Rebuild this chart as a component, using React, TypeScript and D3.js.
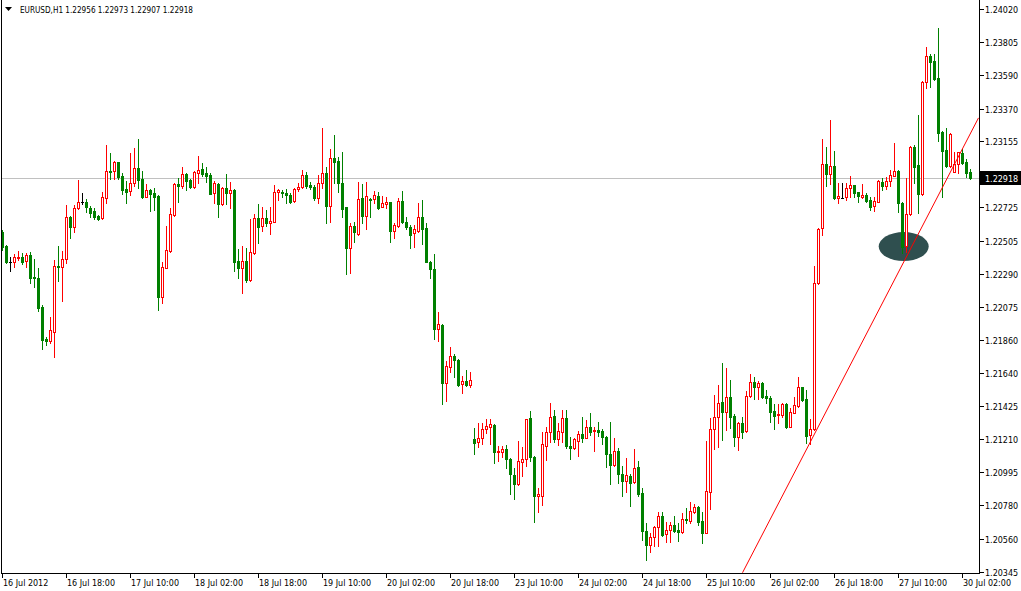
import React from "react";
import * as d3 from "d3";

// ---- Data (EURUSD H1, 16 Jul 2012 02:00 .. 30 Jul 2012 04:00) ----
const symbolTitle = "EURUSD,H1";
// [open, high, low, close]
const week1Candles: [number, number, number, number][] = [
  [1.22566,1.22577,1.22446,1.22468],[1.22473,1.22479,1.22362,1.22368],[1.22366,1.22403,1.22311,1.22366],
  [1.22366,1.22420,1.22335,1.22403],[1.22392,1.22440,1.22381,1.22403],[1.22403,1.22429,1.22355,1.22370],
  [1.22375,1.22425,1.22337,1.22414],[1.22414,1.22435,1.22233,1.22266],[1.22272,1.22388,1.22207,1.22266],
  [1.22264,1.22331,1.22048,1.22070],[1.22074,1.22087,1.21800,1.21859],[1.21865,1.21880,1.21826,1.21854],
  [1.21854,1.22009,1.21841,1.21924],[1.21913,1.22381,1.21750,1.22342],[1.22344,1.22473,1.22244,1.22337],
  [1.22337,1.22440,1.22115,1.22388],[1.22386,1.22740,1.22364,1.22660],[1.22660,1.22669,1.22527,1.22599],
  [1.22599,1.22740,1.22562,1.22719],[1.22719,1.22904,1.22714,1.22758],[1.22758,1.22821,1.22747,1.22758],
  [1.22758,1.22778,1.22697,1.22725],[1.22719,1.22734,1.22664,1.22690],[1.22701,1.22719,1.22647,1.22664],
  [1.22669,1.22675,1.22642,1.22647],[1.22654,1.22827,1.22647,1.22791],[1.22788,1.23132,1.22755,1.22962],
  [1.22962,1.23078,1.22910,1.22954],[1.22962,1.23028,1.22908,1.23023],[1.23019,1.23023,1.22908,1.22925],
  [1.22930,1.22947,1.22812,1.22838],[1.22845,1.22899,1.22755,1.22827],[1.22834,1.23082,1.22806,1.22882],
  [1.22882,1.23115,1.22864,1.22980],[1.22980,1.23171,1.22853,1.22904],[1.22908,1.22964,1.22784,1.22795],
  [1.22795,1.22878,1.22791,1.22838],[1.22838,1.22843,1.22703,1.22812],[1.22817,1.22849,1.22708,1.22795],
  [1.22799,1.22806,1.22055,1.22142],[1.22142,1.22370,1.22102,1.22337],[1.22331,1.22603,1.22327,1.22446],
  [1.22440,1.22719,1.22435,1.22680],[1.22675,1.22882,1.22669,1.22878],[1.22878,1.22915,1.22762,1.22866],
  [1.22866,1.22987,1.22849,1.22943],[1.22943,1.22951,1.22838,1.22899],[1.22904,1.22910,1.22853,1.22860],
  [1.22856,1.22962,1.22853,1.22954],[1.22951,1.23060,1.22886,1.22969],[1.22975,1.23013,1.22930,1.22943],
  [1.22947,1.22990,1.22889,1.22932],[1.22936,1.22951,1.22812,1.22815],[1.22817,1.22897,1.22755,1.22882],
  [1.22878,1.22882,1.22664,1.22745],[1.22745,1.22860,1.22740,1.22849],[1.22849,1.22943,1.22745,1.22817],
  [1.22817,1.22889,1.22723,1.22838],[1.22838,1.22843,1.22311,1.22370],[1.22375,1.22451,1.22266,1.22331],
  [1.22331,1.22473,1.22168,1.22375],[1.22375,1.22462,1.22240,1.22251],[1.22251,1.22649,1.22244,1.22432],
  [1.22425,1.22682,1.22420,1.22654],[1.22654,1.22747,1.22490,1.22599],[1.22603,1.22729,1.22571,1.22654],
  [1.22654,1.22708,1.22605,1.22621],[1.22621,1.22725,1.22549,1.22636],[1.22631,1.22871,1.22629,1.22823],
  [1.22827,1.22845,1.22773,1.22838],[1.22827,1.22838,1.22795,1.22817],[1.22821,1.22843,1.22751,1.22806],
  [1.22806,1.22817,1.22751,1.22762],[1.22768,1.22849,1.22762,1.22843],[1.22843,1.22882,1.22834,1.22856],
  [1.22856,1.22969,1.22853,1.22936],[1.22936,1.22958,1.22853,1.22866],[1.22871,1.22889,1.22843,1.22860],
  [1.22860,1.22871,1.22773,1.22788],[1.22788,1.22936,1.22751,1.22882],[1.22882,1.23245,1.22849,1.22947],
  [1.22947,1.22990,1.22625,1.22736],[1.22736,1.23104,1.22631,1.23045],[1.23045,1.23197,1.22882,1.23023],
  [1.23028,1.23056,1.22823,1.22882],[1.22882,1.23085,1.22664,1.22714],[1.22725,1.22729,1.22288,1.22462],
  [1.22458,1.22621,1.22298,1.22603],[1.22603,1.22631,1.22501,1.22562],[1.22551,1.22893,1.22544,1.22780],
  [1.22788,1.22878,1.22621,1.22671],[1.22671,1.22889,1.22584,1.22799],[1.22780,1.22784,1.22664,1.22773],
  [1.22778,1.22832,1.22751,1.22806],[1.22799,1.22823,1.22714,1.22723],[1.22729,1.22799,1.22725,1.22751],
  [1.22749,1.22795,1.22719,1.22758],[1.22758,1.22762,1.22501,1.22573],[1.22573,1.22625,1.22527,1.22610],
  [1.22605,1.22784,1.22599,1.22767],[1.22767,1.22832,1.22621,1.22627],[1.22631,1.22664,1.22584,1.22595],
  [1.22599,1.22610,1.22462,1.22544],[1.22556,1.22610,1.22468,1.22584],[1.22573,1.22755,1.22566,1.22660],
  [1.22660,1.22773,1.22486,1.22584],[1.22588,1.22621,1.22368,1.22370],[1.22370,1.22375,1.22266,1.22322],
  [1.22322,1.22420,1.21865,1.21931],[1.21931,1.22040,1.21854,1.21961],[1.21957,1.21963,1.21441,1.21580],
  [1.21580,1.21722,1.21462,1.21689],[1.21685,1.21811,1.21652,1.21754],[1.21754,1.21767,1.21615,1.21728],
  [1.21728,1.21735,1.21558,1.21565],[1.21570,1.21626,1.21511,1.21591],[1.21591,1.21663,1.21560,1.21565],
  [1.21565,1.21652,1.21554,1.21598],
];
const week2Candles: [number, number, number, number][] = [
  [1.21212,1.21286,1.21114,1.21188],[1.21191,1.21315,1.21162,1.21217],[1.21217,1.21315,1.21180,1.21278],
  [1.21276,1.21343,1.21250,1.21297],[1.21293,1.21343,1.21180,1.21310],[1.21304,1.21310,1.21058,1.21129],
  [1.21129,1.21167,1.21069,1.21137],[1.21129,1.21169,1.21097,1.21147],[1.21147,1.21173,1.21025,1.21080],
  [1.21082,1.21085,1.20853,1.20982],[1.20977,1.21025,1.20821,1.20917],[1.20917,1.21199,1.20913,1.21069],
  [1.21064,1.21162,1.20971,1.21082],[1.21082,1.21346,1.21036,1.21343],[1.21348,1.21395,1.21071,1.21093],
  [1.21093,1.21101,1.20672,1.20842],[1.20840,1.20892,1.20734,1.20850],[1.20842,1.21256,1.20781,1.21178],
  [1.21169,1.21289,1.21075,1.21256],[1.21256,1.21446,1.21191,1.21354],[1.21363,1.21402,1.21191,1.21210],
  [1.21210,1.21315,1.21173,1.21265],[1.21260,1.21402,1.21191,1.21348],[1.21348,1.21402,1.21152,1.21167],
  [1.21167,1.21223,1.21082,1.21156],[1.21152,1.21217,1.21147,1.21210],[1.21201,1.21267,1.21103,1.21243],
  [1.21243,1.21354,1.21191,1.21221],[1.21221,1.21336,1.21217,1.21289],[1.21289,1.21380,1.21238,1.21260],
  [1.21265,1.21289,1.21136,1.21271],[1.21271,1.21325,1.21234,1.21260],[1.21265,1.21276,1.21178,1.21223],
  [1.21227,1.21232,1.21031,1.21112],[1.21114,1.21325,1.20918,1.21042],[1.21042,1.21221,1.21036,1.21136],
  [1.21136,1.21152,1.20923,1.20982],[1.20982,1.21036,1.20842,1.20938],[1.20938,1.21090,1.20868,1.20977],
  [1.20973,1.20982,1.20777,1.20927],[1.20930,1.21147,1.20927,1.21021],[1.21028,1.21069,1.20842,1.20851],
  [1.20858,1.20894,1.20553,1.20612],[1.20612,1.20662,1.20422,1.20520],[1.20520,1.20597,1.20476,1.20570],
  [1.20570,1.20644,1.20514,1.20636],[1.20636,1.20738,1.20516,1.20710],[1.20710,1.20734,1.20579,1.20585],
  [1.20590,1.20672,1.20542,1.20618],[1.20618,1.20672,1.20538,1.20651],[1.20651,1.20710,1.20607,1.20614],
  [1.20618,1.20662,1.20548,1.20607],[1.20607,1.20731,1.20597,1.20688],[1.20690,1.20764,1.20666,1.20683],
  [1.20679,1.20799,1.20662,1.20742],[1.20738,1.20786,1.20727,1.20766],[1.20766,1.20775,1.20651,1.20672],
  [1.20677,1.20734,1.20535,1.20601],[1.20601,1.21199,1.20597,1.20873],[1.20868,1.21348,1.20755,1.21278],
  [1.21278,1.21500,1.21145,1.21354],[1.21354,1.21565,1.21162,1.21446],[1.21452,1.21711,1.21206,1.21391],
  [1.21391,1.21678,1.21271,1.21485],[1.21485,1.21598,1.21286,1.21354],[1.21363,1.21376,1.21167,1.21227],
  [1.21223,1.21325,1.21141,1.21315],[1.21315,1.21358,1.21217,1.21260],[1.21267,1.21528,1.21260,1.21493],
  [1.21493,1.21637,1.21487,1.21583],[1.21583,1.21617,1.21472,1.21554],[1.21554,1.21593,1.21472,1.21580],
  [1.21580,1.21587,1.21478,1.21485],[1.21495,1.21532,1.21446,1.21478],[1.21482,1.21493,1.21325,1.21391],
  [1.21395,1.21441,1.21276,1.21365],[1.21367,1.21441,1.21315,1.21376],[1.21369,1.21446,1.21358,1.21441],
  [1.21441,1.21446,1.21286,1.21293],[1.21293,1.21413,1.21289,1.21387],[1.21384,1.21489,1.21380,1.21434],
  [1.21430,1.21619,1.21423,1.21550],[1.21550,1.21554,1.21462,1.21467],[1.21472,1.21532,1.21188,1.21234],
  [1.21238,1.21341,1.21178,1.21276],[1.21276,1.22342,1.21273,1.22229],[1.22229,1.22588,1.22225,1.22582],
  [1.22588,1.23171,1.22544,1.23008],[1.23008,1.23117,1.22864,1.22943],[1.22941,1.23295,1.22878,1.22995],
  [1.22995,1.23093,1.22778,1.22788],[1.22788,1.22886,1.22751,1.22799],[1.22789,1.22886,1.22784,1.22789],
  [1.22791,1.22882,1.22773,1.22849],[1.22849,1.22932,1.22795,1.22871],[1.22871,1.22874,1.22795,1.22821],
  [1.22823,1.22827,1.22762,1.22801],[1.22791,1.22876,1.22784,1.22806],[1.22806,1.22817,1.22762,1.22768],
  [1.22773,1.22791,1.22708,1.22729],[1.22736,1.22795,1.22703,1.22767],[1.22762,1.22904,1.22760,1.22897],
  [1.22893,1.22915,1.22838,1.22864],[1.22866,1.22925,1.22843,1.22897],[1.22899,1.22969,1.22864,1.22936],
  [1.22932,1.23143,1.22930,1.22962],[1.22962,1.22969,1.22697,1.22755],[1.22755,1.22759,1.22425,1.22466],
  [1.22475,1.22915,1.22435,1.22680],[1.22680,1.23126,1.22676,1.23122],[1.23121,1.23132,1.22882,1.22990],
  [1.23002,1.23328,1.22690,1.22810],[1.22810,1.23550,1.22807,1.23546],[1.23542,1.23770,1.23506,1.23713],
  [1.23713,1.23724,1.23513,1.23676],[1.23681,1.23724,1.23557,1.23561],[1.23568,1.23894,1.23160,1.23212],
  [1.23219,1.23222,1.22795,1.23095],[1.23100,1.23241,1.22990,1.22997],[1.22997,1.23209,1.22990,1.23205],
  [1.22958,1.23088,1.22955,1.23008],[1.23008,1.23088,1.22951,1.23085],[1.23078,1.23104,1.23008,1.23017],
  [1.23023,1.23039,1.22925,1.22951],[1.22956,1.22973,1.22907,1.22918],
];
const timeTickLabels = [
  "16 Jul 2012", "16 Jul 18:00", "17 Jul 10:00", "18 Jul 02:00", "18 Jul 18:00", "19 Jul 10:00",
  "20 Jul 02:00", "20 Jul 18:00", "23 Jul 10:00", "24 Jul 02:00", "24 Jul 18:00", "25 Jul 10:00",
  "26 Jul 02:00", "26 Jul 18:00", "27 Jul 10:00", "30 Jul 02:00",
];
const barsPerTimeTick = 16;
const priceTicks = [
  1.2402, 1.23805, 1.2359, 1.2337, 1.23155, 1.2294, 1.22725, 1.22505, 1.2229,
  1.22075, 1.2186, 1.2164, 1.21425, 1.2121, 1.20995, 1.2078, 1.2056, 1.20345,
];
const trendLine = [ { bar: 185, price: 1.20339 }, { bar: 244, price: 1.23309 } ];
const markedArea = { bar: 225.3, price: 1.22469 };

// ---- Layout ----
const W = 1021, H = 591;
const PL = 1, PR = 979, PT = 0, PB = 573;
const UP = "#ff0000", DOWN = "#008000", FONT = "'DejaVu Sans', Verdana, sans-serif";

export default function App() {
  const candles = [...week1Candles, ...week2Candles];
  const last = candles[candles.length - 1];
  const x = d3.scaleLinear().domain([0, candles.length - 1]).range([2, 2 + 4 * (candles.length - 1)]);
  const y = d3.scaleLinear().domain([1.20345, 1.2402]).range([571.8, 9.0]);
  const fmt = d3.format(".5f");

  const marks = candles.map(([o, h, l, c], i) => {
    const cx = Math.round(x(i));
    const yo = Math.round(y(o)), yc = Math.round(y(c)), yh = Math.round(y(h)), yl = Math.round(y(l));
    if (c === o) {
      return (
        <g key={i}>
          <line x1={cx + 0.5} x2={cx + 0.5} y1={yh} y2={yl + 1} stroke="#000" />
          <line x1={cx - 1} x2={cx + 2} y1={yo + 0.5} y2={yo + 0.5} stroke="#000" />
        </g>
      );
    }
    if (c > o) {
      const top = yc, bot = yo;
      return (
        <g key={i}>
          <line x1={cx + 0.5} x2={cx + 0.5} y1={yh} y2={yl + 1} stroke={UP} />
          {bot - top < 1 ? (
            <line x1={cx - 1} x2={cx + 2} y1={top + 0.5} y2={top + 0.5} stroke={UP} />
          ) : (
            <rect x={cx - 0.5} y={top + 0.5} width={2} height={bot - top} fill="#fff" stroke={UP} />
          )}
        </g>
      );
    }
    const top = yo, bot = yc;
    return (
      <g key={i}>
        <line x1={cx + 0.5} x2={cx + 0.5} y1={yh} y2={yl + 1} stroke={DOWN} />
        <rect x={cx - 1} y={top} width={3} height={Math.max(1, bot - top + 1)} fill={DOWN} />
      </g>
    );
  });

  const lastY = Math.round(y(last[3]));
  const tl = trendLine.map((p) => [x(p.bar) + 0.5, y(p.price)]);

  return (
    <div style={{ position: "fixed", left: 0, top: 0, width: W, height: H, background: "#fff" }}>
      <svg width={W} height={H} style={{ display: "block" }} shapeRendering="crispEdges">
        <rect x={0} y={0} width={W} height={H} fill="#fff" />
        <defs>
          <clipPath id="plot"><rect x={PL} y={PT} width={PR - PL} height={PB - PT} /></clipPath>
        </defs>
        {/* current price line */}
        <line x1={PL} x2={PR} y1={lastY + 0.5} y2={lastY + 0.5} stroke="#c0c0c0" />
        {/* highlighted area */}
        <ellipse cx={x(markedArea.bar) + 0.5} cy={y(markedArea.price)} rx={25} ry={14.5}
          fill="#2f4f4f" shapeRendering="auto" />
        <g>{marks}</g>
        {/* trend line */}
        <g clipPath="url(#plot)">
          <line x1={tl[0][0]} y1={tl[0][1]} x2={tl[1][0]} y2={tl[1][1]} stroke="#ff0000" strokeWidth={1}
            shapeRendering="auto" />
        </g>
        {/* frame */}
        <line x1={PL + 0.5} x2={PL + 0.5} y1={PT} y2={PB + 1} stroke="#000" />
        <line x1={PR + 0.5} x2={PR + 0.5} y1={PT} y2={PB + 1} stroke="#000" />
        <line x1={PL} x2={PR + 1} y1={PB + 0.5} y2={PB + 0.5} stroke="#000" />
        {/* price axis */}
        {priceTicks.map((p) => {
          const ty = Math.round(y(p));
          const hidden = Math.abs(ty - lastY) < 12;
          return (
            <g key={p}>
              <line x1={PR + 1} x2={PR + 5} y1={ty + 0.5} y2={ty + 0.5} stroke="#000" />
              {!hidden && (
                <text x={985} y={ty + 4} fontFamily={FONT} fontSize={8} fill="#000">{fmt(p)}</text>
              )}
            </g>
          );
        })}
        <rect x={980} y={lastY - 7} width={41} height={14} fill="#000" />
        <text x={985} y={lastY + 4} fontFamily={FONT} fontSize={8} fill="#fff">{fmt(last[3])}</text>
        {/* time axis */}
        {timeTickLabels.map((lab, k) => {
          const tx = Math.round(x(k * barsPerTimeTick));
          return (
            <g key={lab}>
              <line x1={tx + 0.5} x2={tx + 0.5} y1={PB} y2={PB + 5} stroke="#000" />
              <text x={tx + 1} y={586} fontFamily={FONT} fontSize={8} fill="#000">{lab}</text>
            </g>
          );
        })}
        {/* header */}
        <path d="M5,7 L12,7 L8.5,11 Z" fill="#000" shapeRendering="auto" />
        <text x={20} y={13} fontFamily={FONT} fontSize={8} fill="#000" textLength={173}
          lengthAdjust="spacingAndGlyphs">
          {`${symbolTitle} ${last.map((v) => fmt(v)).join(" ")}`}
        </text>
      </svg>
    </div>
  );
}
